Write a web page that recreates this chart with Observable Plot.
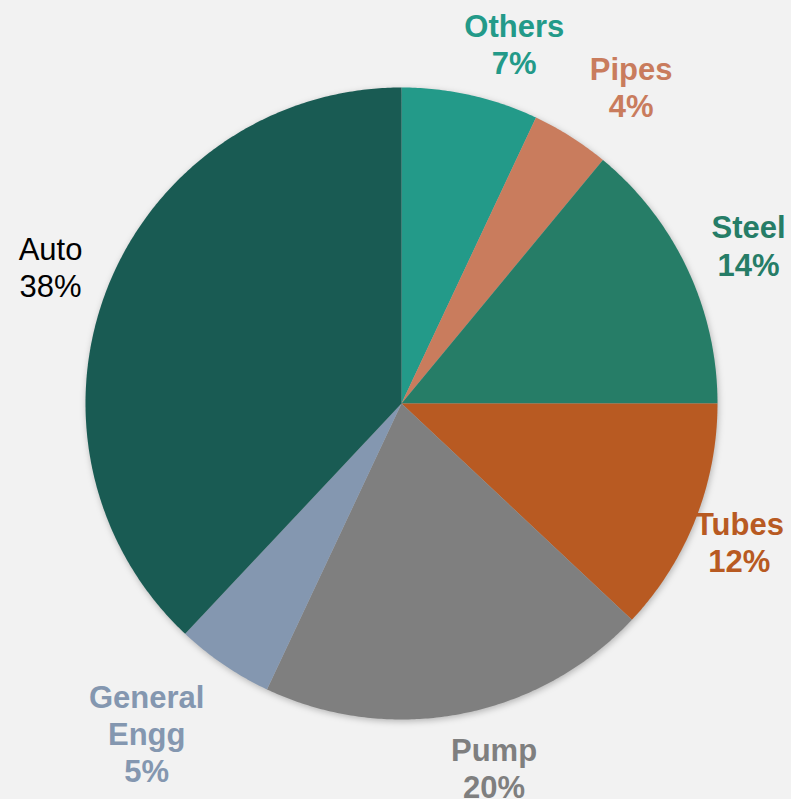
<!DOCTYPE html>
<html>
<head>
<meta charset="utf-8">
<script src="https://cdn.jsdelivr.net/npm/d3@7"></script>
<script src="https://cdn.jsdelivr.net/npm/@observablehq/plot@0.6"></script>
<style>
  html, body { margin: 0; padding: 0; background: #f2f2f2; }
  #chart svg { display: block; background: #f2f2f2; }
</style>
</head>
<body>
<div id="chart"></div>
<script>
// ---- data (clockwise from 12 o'clock) ----
const categories = ["Others", "Pipes", "Steel", "Tubes", "Pump", "General Engg", "Auto"];
const labelLines = [["Others"], ["Pipes"], ["Steel"], ["Tubes"], ["Pump"], ["General", "Engg"], ["Auto"]];
const shares = [7, 4, 14, 12, 20, 5, 38];
const sliceColors = ["#239a89", "#c97c5d", "#267d67", "#b85a22", "#7f7f7f", "#8497b0", "#195b53"];
const labelColors = ["#239a89", "#c97c5d", "#267d67", "#b85a22", "#7f7f7f", "#8497b0", "#000000"];
const boldLabels = [true, true, true, true, true, true, false];

// ---- layout ----
const W = 791, H = 799;
const cx = 401, cy = 403, R = 316;
const fontSize = 31, lineH = 1.2, gap = 16;
const fontFamily = "'Liberation Sans', Arial, Helvetica, sans-serif";
// manual label adjustments (px) on top of the automatic outside placement
const labelNudge = [[30, 10], [23, 9], [2, 4], [-22, -4], [22, -6], [-24, -10], [-2, 1]];

const total = d3.sum(shares);
const ctx = document.createElement("canvas").getContext("2d");

const slicePts = [];
const labels = [];
let acc = 0;
categories.forEach((name, i) => {
  const a0 = acc / total * 2 * Math.PI;
  acc += shares[i];
  const a1 = acc / total * 2 * Math.PI;
  slicePts.push({name, x: cx, y: cy, color: sliceColors[i]});
  const n = Math.max(2, Math.ceil((a1 - a0) / (Math.PI / 360)));
  for (let k = 0; k <= n; k++) {
    const a = a0 + (a1 - a0) * k / n;
    slicePts.push({name, x: cx + R * Math.sin(a), y: cy - R * Math.cos(a), color: sliceColors[i]});
  }
  // label placed outside, box touching circle + gap along mid-angle
  const am = (a0 + a1) / 2;
  const ux = Math.sin(am), uy = -Math.cos(am);
  const lines = [...labelLines[i], shares[i] + "%"];
  ctx.font = `${boldLabels[i] ? "bold " : ""}${fontSize}px ${fontFamily}`;
  const w = d3.max(lines, s => ctx.measureText(s).width);
  const h = lines.length * fontSize * lineH;
  const t = Math.abs(ux) * w / 2 + Math.abs(uy) * h / 2;
  const r = R + gap + t;
  labels.push({
    text: lines.join("\n"),
    x: cx + r * ux + labelNudge[i][0],
    y: cy + r * uy + labelNudge[i][1],
    color: labelColors[i],
    bold: boldLabels[i]
  });
});

const plot = Plot.plot({
  width: W,
  height: H,
  margin: 0,
  x: {domain: [0, W], range: [0, W], axis: null},
  y: {domain: [0, H], range: [0, H], axis: null},
  style: {background: "#f2f2f2", fontFamily},
  marks: [
    Plot.line(slicePts, {x: "x", y: "y", z: "name", fill: "color", stroke: "none", curve: "linear-closed"}),
    Plot.text(labels.filter(d => d.bold), {x: "x", y: "y", text: "text", fill: "color", fontSize, fontWeight: "bold", lineHeight: lineH, textAnchor: "middle"}),
    Plot.text(labels.filter(d => !d.bold), {x: "x", y: "y", text: "text", fill: "color", fontSize, fontWeight: "normal", lineHeight: lineH, textAnchor: "middle"})
  ]
});
d3.select(plot).select("g[aria-label=line]").style("filter", "drop-shadow(1px 2px 3px rgba(0,0,0,0.25))");
document.getElementById("chart").appendChild(plot);
</script>
</body>
</html>
